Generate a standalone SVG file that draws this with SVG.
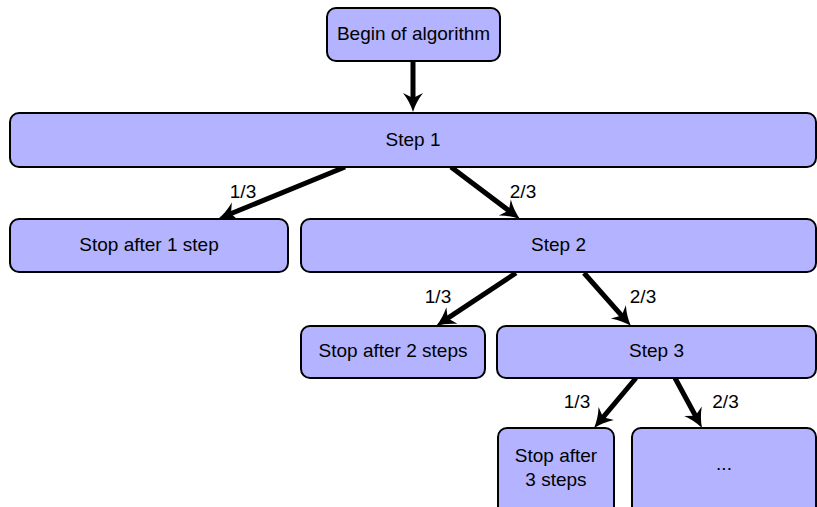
<svg xmlns="http://www.w3.org/2000/svg" width="817" height="507" viewBox="0 0 817 507">
<style>
.box{fill:#b3b3ff;stroke:#000;stroke-width:2}
.t{font-family:"Liberation Sans",Arial,sans-serif;font-size:19px;fill:#000;text-anchor:middle}
.e{fill:none;stroke:#000;stroke-width:5}
</style>
<defs>
<marker id="ah" markerUnits="userSpaceOnUse" markerWidth="24" markerHeight="24" refX="8" refY="10" orient="auto" overflow="visible">
<path d="M0,0 Q9,7 19,10 Q9,13 0,20 L5,10 z" fill="#000"/>
</marker>
</defs>
<rect width="817" height="507" fill="#fff"/>
<g id="edges">
<line class="e" x1="413" y1="62" x2="413" y2="101" marker-end="url(#ah)"/>
<line class="e" x1="345" y1="167" x2="228.2" y2="214.8" marker-end="url(#ah)"/>
<line class="e" x1="451" y1="167" x2="511.2" y2="212.4" marker-end="url(#ah)"/>
<line class="e" x1="516" y1="273" x2="445.2" y2="319.9" marker-end="url(#ah)"/>
<line class="e" x1="584" y1="273" x2="623.7" y2="317.8" marker-end="url(#ah)"/>
<line class="e" x1="636" y1="378" x2="601.1" y2="419.6" marker-end="url(#ah)"/>
<line class="e" x1="675" y1="378" x2="696.8" y2="418.3" marker-end="url(#ah)"/>
<text class="t" x="243" y="198">1/3</text>
<text class="t" x="523" y="198">2/3</text>
<text class="t" x="438" y="303">1/3</text>
<text class="t" x="643" y="303">2/3</text>
<text class="t" x="577" y="408">1/3</text>
<text class="t" x="725.5" y="408">2/3</text>
</g>
<g id="begin">
<rect class="box" x="327" y="8" width="173" height="53" rx="9"/>
<text class="t" x="413.5" y="39.5">Begin of algorithm</text>
</g>
<g id="step1">
<rect class="box" x="10" y="113" width="806" height="54" rx="9"/>
<text class="t" x="413" y="145.5">Step 1</text>
</g>
<g id="stop1">
<rect class="box" x="10" y="219" width="278" height="53" rx="9"/>
<text class="t" x="149" y="251">Stop after 1 step</text>
</g>
<g id="step2">
<rect class="box" x="301" y="219" width="515" height="53" rx="9"/>
<text class="t" x="558.5" y="251">Step 2</text>
</g>
<g id="stop2">
<rect class="box" x="301" y="326" width="184" height="52" rx="9"/>
<text class="t" x="393" y="357">Stop after 2 steps</text>
</g>
<g id="step3">
<rect class="box" x="497" y="326" width="319" height="52" rx="9"/>
<text class="t" x="656.5" y="357">Step 3</text>
</g>
<g id="stop3">
<rect class="box" x="498" y="428" width="116" height="100" rx="9"/>
<text class="t" x="556" y="461.5">Stop after</text>
<text class="t" x="556" y="486">3 steps</text>
</g>
<g id="more">
<rect class="box" x="632" y="428" width="184" height="100" rx="9"/>
<text class="t" x="724" y="470">...</text>
</g>
</svg>
